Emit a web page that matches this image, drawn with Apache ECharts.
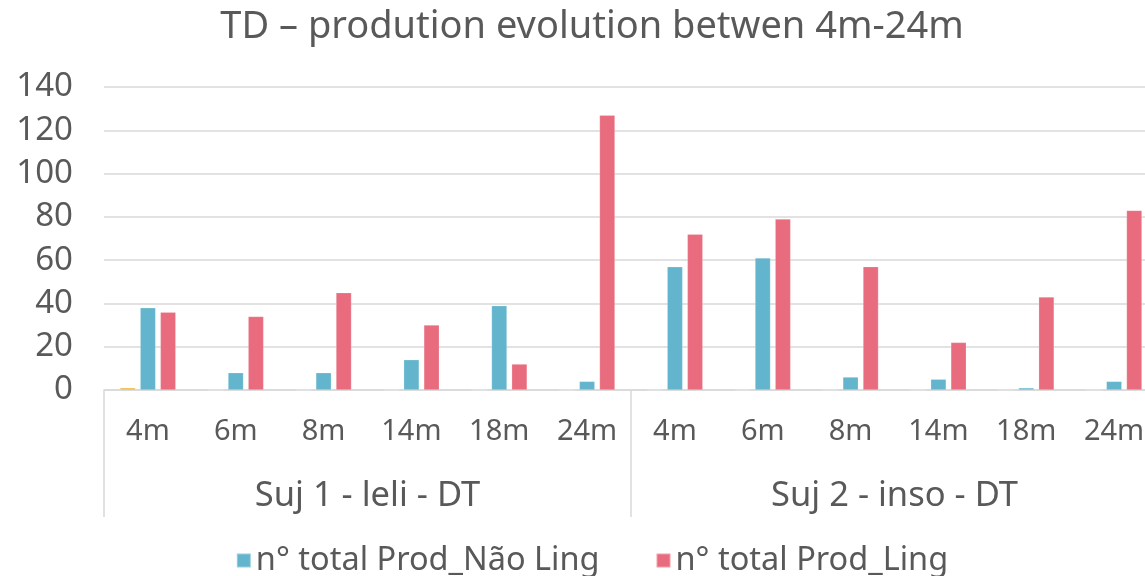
<!DOCTYPE html>
<html>
<head>
<meta charset="utf-8">
<script src="https://cdn.jsdelivr.net/npm/echarts@6/dist/echarts.min.js"></script>
<style>
  html, body { margin: 0; padding: 0; background: #ffffff; overflow: hidden; }
  /* drawing surface runs past the right edge of the window: the last category is cut off */
  #chart { width: 1184px; height: 576px; }
</style>
</head>
<body>
<div id="chart"></div>
<script>
// Age points per subject (inner axis level) and subject groups (outer level)
const months = ['4m', '6m', '8m', '14m', '18m', '24m', '4m', '6m', '8m', '14m', '18m', '24m'];
const subjects = ['Suj 1 - leli - DT', 'Suj 2 - inso - DT'];

// Production counts per session
const prodOutro   = [1, 0, 0, 0, 0, 0, 0, 0, 0, 0, 0, 0];
const prodNaoLing = [38, 8, 8, 14, 39, 4, 57, 61, 6, 5, 1, 4];
const prodLing    = [36, 34, 45, 30, 12, 127, 72, 79, 57, 22, 43, 83];

const yTicks = { min: 0, max: 140, interval: 20 };

const FONT = '"Noto Sans", "DejaVu Sans", sans-serif';
const TEXT = '#595959';
const GRID = '#d9d9d9';

const chart = echarts.init(document.getElementById('chart'), null, { renderer: 'canvas' });

function barSeries(name, data, color) {
  return {
    name: name,
    type: 'bar',
    data: data,
    barWidth: 15.5,
    barGap: '30%',
    itemStyle: { color: color, borderColor: 'rgba(255,255,255,0.35)', borderWidth: 0.6 },
    emphasis: { disabled: true },
    animation: false
  };
}

chart.setOption({
  backgroundColor: '#ffffff',
  title: {
    text: 'TD – prodution evolution betwen 4m-24m',
    left: 'center',
    top: 3,
    textStyle: { fontFamily: FONT, fontSize: 38, fontWeight: 'normal', color: TEXT }
  },
  legend: {
    data: ['n° total Prod_Não Ling', 'n° total Prod_Ling'],
    bottom: -6,
    left: 'center',
    itemWidth: 14,
    itemHeight: 14,
    itemGap: 56,
    icon: 'rect',
    textStyle: { fontFamily: FONT, fontSize: 32.5, color: TEXT, padding: [0, 0, 0, 0] }
  },
  grid: { left: 104, right: 26, top: 87, bottom: 186, containLabel: false },
  xAxis: [
    {
      type: 'category',
      data: months,
      position: 'bottom',
      axisLine: { show: true, lineStyle: { color: GRID, width: 1.5 } },
      axisTick: { show: false },
      axisLabel: { interval: 0, margin: 27, fontFamily: FONT, fontSize: 29, color: TEXT }
    },
    {
      type: 'category',
      data: subjects,
      position: 'bottom',
      axisLine: { show: false },
      axisTick: { show: true, length: 127, interval: 0, lineStyle: { color: GRID, width: 1.5 } },
      axisLabel: { interval: 0, margin: 89, fontFamily: FONT, fontSize: 34.5, color: TEXT },
      splitLine: { show: false }
    }
  ],
  yAxis: {
    type: 'value',
    min: yTicks.min,
    max: yTicks.max,
    interval: yTicks.interval,
    axisLine: { show: false },
    axisTick: { show: false },
    splitLine: { lineStyle: { color: GRID, width: 1.5 } },
    axisLabel: { margin: 31, fontFamily: FONT, fontSize: 33, color: TEXT }
  },
  series: [
    barSeries('Outro', prodOutro, '#EDB22F'),
    barSeries('n° total Prod_Não Ling', prodNaoLing, '#62B5CC'),
    barSeries('n° total Prod_Ling', prodLing, '#E86C7E')
  ]
});
</script>
</body>
</html>
